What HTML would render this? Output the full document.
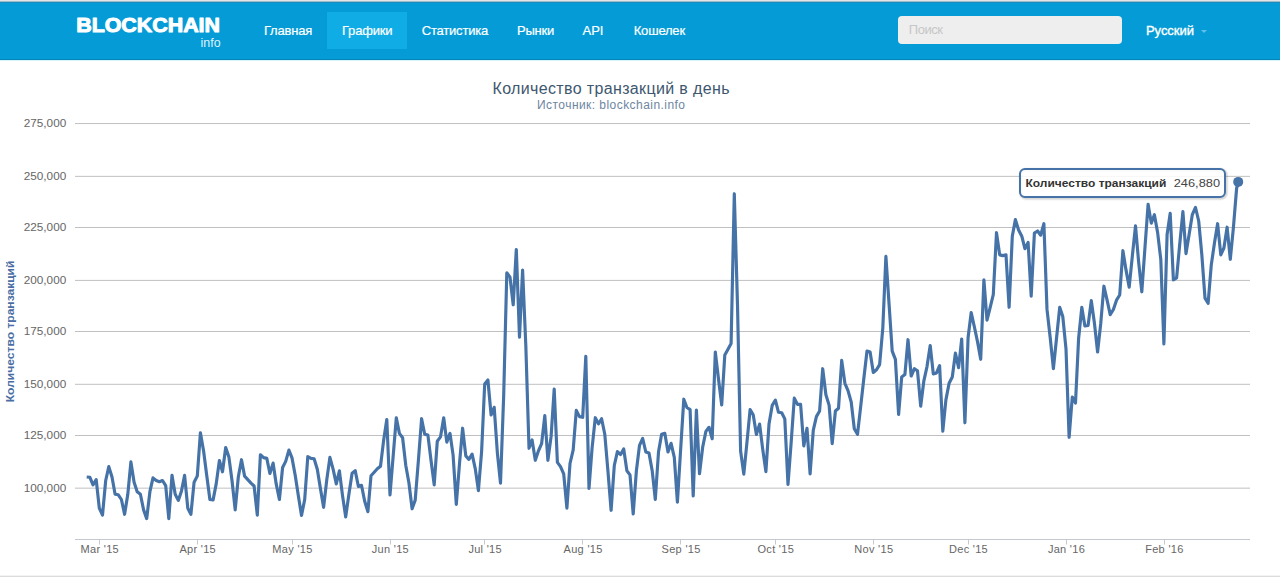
<!DOCTYPE html>
<html lang="ru"><head><meta charset="utf-8"><title>Blockchain.info</title>
<style>
html,body{margin:0;padding:0;background:#fff;}
body{width:1280px;height:577px;overflow:hidden;position:relative;font-family:"Liberation Sans",sans-serif;}
#topline{position:absolute;left:0;top:0;width:1280px;height:3px;background:linear-gradient(#e5e5e5 0,#e5e5e5 1px,#9cbccc 1px,#9cbccc 2px,#1a8bbd 2px,#1a8bbd 3px);}
#nav{position:absolute;left:0;top:3px;width:1280px;height:56px;background:#049BD6;border-bottom:1px solid #0787b8;}
#navsub{position:absolute;left:0;top:60px;width:1280px;height:1px;background:#d5f4fa;}
.nl{position:absolute;top:12px;height:37px;line-height:37px;font-size:13px;color:#fff;padding:0 15px;white-space:nowrap;letter-spacing:-0.2px;-webkit-text-stroke:0.2px #fff;}
.nl.act{background:#10ACE6;height:36.5px;}
#search{position:absolute;left:898px;top:16px;width:224px;height:27.5px;background:#eee;border-radius:4px;}
#search span{position:absolute;left:10.75px;top:0;line-height:27px;font-size:13px;color:#c6c6c6;letter-spacing:-0.45px;}
#lang{position:absolute;left:1146px;top:12px;line-height:37px;font-size:13px;color:#fff;-webkit-text-stroke:0.35px #fff;letter-spacing:-0.05px;}
#caret{position:absolute;left:1201px;top:30px;width:0;height:0;border-left:3.5px solid transparent;border-right:3.5px solid transparent;border-top:3.5px solid #5fc0ea;}
#bottomline{position:absolute;left:0;top:575px;width:1280px;height:2px;background:linear-gradient(#f3f3f3 0,#f3f3f3 1px,#dcdcdc 1px,#dcdcdc 2px);}
svg{position:absolute;left:0;top:0;}
svg text{font-family:"Liberation Sans",sans-serif;}
</style></head><body>
<div id="topline"></div>
<div id="nav"></div>
<div id="navsub"></div>
<svg width="300" height="60" viewBox="0 0 300 60">
<text x="76.2" y="31.7" font-size="20.5" font-weight="bold" fill="#fff" stroke="#fff" stroke-width="1" stroke-linejoin="round" textLength="143.8" lengthAdjust="spacingAndGlyphs">BLOCKCHAIN</text>
<text x="200.6" y="46.7" font-size="12.5" fill="#dff2fb" textLength="20" lengthAdjust="spacingAndGlyphs">info</text>
</svg>
<div class="nl" style="left:249px">Главная</div>
<div class="nl act" style="left:327px">Графики</div>
<div class="nl" style="left:406.75px">Статистика</div>
<div class="nl" style="left:502px">Рынки</div>
<div class="nl" style="left:567.5px;letter-spacing:0">API</div>
<div class="nl" style="left:618.75px">Кошелек</div>
<div id="search"><span>Поиск</span></div>
<div id="lang">Русский</div><div id="caret"></div>

<svg width="1280" height="577" viewBox="0 0 1280 577">
<text x="611" y="94" text-anchor="middle" font-size="16" fill="#3E576F" textLength="237" lengthAdjust="spacing">Количество транзакций в день</text>
<text x="611" y="109" text-anchor="middle" font-size="12" fill="#6D869F" textLength="148" lengthAdjust="spacing">Источник: blockchain.info</text>
<g><path d="M75 123.55H1250" stroke="#C0C0C0" stroke-width="1" fill="none"/>
<path d="M75 176.35H1250" stroke="#C0C0C0" stroke-width="1" fill="none"/>
<path d="M75 227.5H1250" stroke="#C0C0C0" stroke-width="1" fill="none"/>
<path d="M75 280.4H1250" stroke="#C0C0C0" stroke-width="1" fill="none"/>
<path d="M75 331.5H1250" stroke="#C0C0C0" stroke-width="1" fill="none"/>
<path d="M75 384.3H1250" stroke="#C0C0C0" stroke-width="1" fill="none"/>
<path d="M75 435.5H1250" stroke="#C0C0C0" stroke-width="1" fill="none"/>
<path d="M75 488.15H1250" stroke="#C0C0C0" stroke-width="1" fill="none"/></g>
<path d="M75 539.5H1250" stroke="#C3C9D0" stroke-width="1"/>
<path d="M99.5 540V544.5" stroke="#C3C9D0" stroke-width="1"/>
<path d="M197.5 540V544.5" stroke="#C3C9D0" stroke-width="1"/>
<path d="M292.5 540V544.5" stroke="#C3C9D0" stroke-width="1"/>
<path d="M390.5 540V544.5" stroke="#C3C9D0" stroke-width="1"/>
<path d="M484.5 540V544.5" stroke="#C3C9D0" stroke-width="1"/>
<path d="M582.5 540V544.5" stroke="#C3C9D0" stroke-width="1"/>
<path d="M680.5 540V544.5" stroke="#C3C9D0" stroke-width="1"/>
<path d="M775.5 540V544.5" stroke="#C3C9D0" stroke-width="1"/>
<path d="M873.5 540V544.5" stroke="#C3C9D0" stroke-width="1"/>
<path d="M968.5 540V544.5" stroke="#C3C9D0" stroke-width="1"/>
<path d="M1066.5 540V544.5" stroke="#C3C9D0" stroke-width="1"/>
<path d="M1164.5 540V544.5" stroke="#C3C9D0" stroke-width="1"/>
<g font-size="10.7" fill="#666"><text x="66.2" y="127.14999999999999" text-anchor="end" textLength="42.4" lengthAdjust="spacingAndGlyphs">275,000</text>
<text x="66.2" y="179.95" text-anchor="end" textLength="42.4" lengthAdjust="spacingAndGlyphs">250,000</text>
<text x="66.2" y="231.1" text-anchor="end" textLength="42.4" lengthAdjust="spacingAndGlyphs">225,000</text>
<text x="66.2" y="284.0" text-anchor="end" textLength="42.4" lengthAdjust="spacingAndGlyphs">200,000</text>
<text x="66.2" y="335.1" text-anchor="end" textLength="42.4" lengthAdjust="spacingAndGlyphs">175,000</text>
<text x="66.2" y="387.90000000000003" text-anchor="end" textLength="42.4" lengthAdjust="spacingAndGlyphs">150,000</text>
<text x="66.2" y="439.1" text-anchor="end" textLength="42.4" lengthAdjust="spacingAndGlyphs">125,000</text>
<text x="66.2" y="491.75" text-anchor="end" textLength="42.4" lengthAdjust="spacingAndGlyphs">100,000</text></g>
<g font-size="11" fill="#666"><text x="99.8" y="553" text-anchor="middle" letter-spacing="0.3">Mar '15</text>
<text x="197.7" y="553" text-anchor="middle" letter-spacing="0.3">Apr '15</text>
<text x="292.5" y="553" text-anchor="middle" letter-spacing="0.3">May '15</text>
<text x="390.4" y="553" text-anchor="middle" letter-spacing="0.3">Jun '15</text>
<text x="485.2" y="553" text-anchor="middle" letter-spacing="0.3">Jul '15</text>
<text x="583.1" y="553" text-anchor="middle" letter-spacing="0.3">Aug '15</text>
<text x="681.1" y="553" text-anchor="middle" letter-spacing="0.3">Sep '15</text>
<text x="775.8" y="553" text-anchor="middle" letter-spacing="0.3">Oct '15</text>
<text x="873.8" y="553" text-anchor="middle" letter-spacing="0.3">Nov '15</text>
<text x="968.5" y="553" text-anchor="middle" letter-spacing="0.3">Dec '15</text>
<text x="1066.5" y="553" text-anchor="middle" letter-spacing="0.3">Jan '16</text>
<text x="1164.4" y="553" text-anchor="middle" letter-spacing="0.3">Feb '16</text></g>
<text transform="translate(13.8,331.4) rotate(-90)" text-anchor="middle" font-size="11.6" font-weight="bold" fill="#4a6ea3" textLength="141.7" lengthAdjust="spacingAndGlyphs">Количество транзакций</text>
<polyline points="86.7,477.0 89.9,477.3 93.0,484.8 96.2,479.6 99.3,508.2 102.5,515.1 105.7,480.5 108.8,466.6 112.0,477.0 115.1,494.3 118.3,494.8 121.4,499.5 124.6,514.3 127.8,494.3 130.9,461.9 134.1,482.2 137.2,491.7 140.4,494.3 143.6,509.9 146.7,518.6 149.9,491.7 153.0,477.9 156.2,480.5 159.4,481.7 162.5,480.5 165.7,485.7 168.8,518.6 172.0,475.3 175.2,494.3 178.3,500.4 181.5,490.9 184.6,475.3 187.8,508.2 190.9,514.3 194.1,482.2 197.3,476.1 200.4,432.8 203.6,451.0 206.7,475.3 209.9,499.5 213.1,499.9 216.2,483.9 219.4,460.5 222.5,471.8 225.7,447.5 228.9,457.1 232.0,480.5 235.2,509.9 238.3,477.0 241.5,459.7 244.6,476.1 247.8,479.6 251.0,483.1 254.1,486.0 257.3,515.1 260.4,454.8 263.6,457.6 266.8,458.4 269.9,473.5 273.1,463.1 276.2,483.9 279.4,499.5 282.6,467.5 285.7,461.4 288.9,450.1 292.0,457.9 295.2,475.3 298.4,496.1 301.5,515.5 304.7,499.5 307.8,456.7 311.0,458.4 314.1,458.8 317.3,469.2 320.5,489.1 323.6,507.3 326.8,479.6 329.9,457.4 333.1,469.2 336.3,483.9 339.4,470.9 342.6,496.1 345.7,516.9 348.9,494.3 352.1,473.2 355.2,470.6 358.4,486.5 361.5,485.3 364.7,501.3 367.9,511.7 371.0,475.8 374.2,472.3 377.3,468.8 380.5,466.2 383.6,440.6 386.8,419.5 390.0,494.9 393.1,456.8 396.3,417.8 399.4,433.4 402.6,437.7 405.8,465.5 408.9,482.8 412.1,508.8 415.2,500.1 418.4,460.3 421.6,418.7 424.7,434.3 427.9,435.1 431.0,460.3 434.2,484.9 437.3,441.2 440.5,436.9 443.7,417.8 446.8,442.1 450.0,433.4 453.1,455.1 456.3,504.5 459.5,463.7 462.6,428.2 465.8,455.9 468.9,459.4 472.1,454.2 475.3,468.9 478.4,490.6 481.6,451.6 484.7,384.0 487.9,380.0 491.1,415.0 494.2,407.3 497.4,453.3 500.5,483.2 503.7,395.0 506.8,272.8 510.0,277.1 513.2,304.8 516.3,249.5 519.5,337.1 522.6,270.0 525.8,345.0 529.0,448.3 532.1,440.0 535.3,460.3 538.4,451.0 541.6,443.7 544.8,415.6 547.9,460.3 551.1,436.4 554.2,389.0 557.4,462.4 560.5,466.6 563.7,473.9 566.9,508.2 570.0,463.5 573.2,449.9 576.3,410.4 579.5,416.6 582.7,417.3 585.8,356.3 589.0,488.4 592.1,447.9 595.3,417.7 598.5,423.9 601.6,418.7 604.8,434.3 607.9,470.7 611.1,510.3 614.3,465.5 617.4,451.6 620.6,454.5 623.7,448.9 626.9,470.7 630.0,474.9 633.2,514.0 636.4,470.7 639.5,445.4 642.7,438.5 645.8,452.0 649.0,453.1 652.2,470.7 655.3,499.5 658.5,452.0 661.6,434.3 664.8,433.3 668.0,452.0 671.1,443.3 674.3,457.4 677.4,502.2 680.6,450.1 683.8,399.2 686.9,407.5 690.1,409.6 693.2,495.9 696.4,410.0 699.5,473.7 702.7,447.0 705.9,431.4 709.0,427.3 712.2,438.7 715.3,352.0 718.5,379.0 721.7,405.0 724.8,355.0 728.0,349.3 731.1,343.5 734.3,193.7 737.5,305.0 740.6,451.0 743.8,474.1 746.9,442.9 750.1,409.6 753.2,414.8 756.4,434.5 759.6,424.1 762.7,449.1 765.9,471.6 769.0,424.1 772.2,405.4 775.4,400.2 778.5,412.3 781.7,412.7 784.8,418.9 788.0,484.5 791.2,441.8 794.3,398.1 797.5,404.4 800.6,404.4 803.8,446.0 807.0,428.3 810.1,474.0 813.3,430.1 816.4,416.6 819.6,411.0 822.7,368.7 825.9,394.7 829.1,405.1 832.2,443.6 835.4,411.0 838.5,408.3 841.7,360.4 844.9,383.3 848.0,390.6 851.2,402.0 854.3,428.7 857.5,434.3 860.7,406.4 863.8,378.7 867.0,351.0 870.1,352.1 873.3,372.5 876.5,369.8 879.6,364.6 882.8,328.2 885.9,256.4 889.1,304.7 892.2,351.1 895.4,359.4 898.6,414.5 901.7,377.0 904.9,374.6 908.0,339.7 911.2,376.0 914.4,368.7 917.5,370.8 920.7,406.2 923.8,381.2 927.0,366.6 930.2,345.5 933.3,373.9 936.5,372.9 939.6,365.6 942.8,431.1 945.9,399.9 949.1,383.3 952.3,377.0 955.4,353.1 958.6,367.7 961.7,339.0 964.9,422.8 968.1,337.5 971.2,312.5 974.4,327.0 977.5,341.6 980.7,359.3 983.9,279.9 987.0,320.2 990.2,307.3 993.3,294.5 996.5,232.7 999.7,254.9 1002.8,255.6 1006.0,254.9 1009.1,307.3 1012.3,236.2 1015.4,219.6 1018.6,230.0 1021.8,236.2 1024.9,248.7 1028.1,242.5 1031.2,296.1 1034.4,233.1 1037.6,231.0 1040.7,235.2 1043.9,223.7 1047.0,309.4 1050.2,337.5 1053.4,368.7 1056.5,338.5 1059.7,307.3 1062.8,316.6 1066.0,348.9 1069.1,437.3 1072.3,397.0 1075.5,403.0 1078.6,338.5 1081.8,307.3 1084.9,326.0 1088.1,325.4 1091.3,300.6 1094.4,322.9 1097.6,352.0 1100.7,323.9 1103.9,286.2 1107.1,300.2 1110.2,314.7 1113.4,309.5 1116.5,300.2 1119.7,295.0 1122.9,250.7 1126.0,269.9 1129.2,287.1 1132.3,256.4 1135.5,225.8 1138.6,261.6 1141.8,291.8 1145.0,247.2 1148.1,204.3 1151.3,223.1 1154.4,214.7 1157.6,232.4 1160.8,259.5 1163.9,343.9 1167.1,234.5 1170.2,213.3 1173.4,279.8 1176.6,277.9 1179.7,244.5 1182.9,211.6 1186.0,253.6 1189.2,234.1 1192.3,214.7 1195.5,207.5 1198.7,221.0 1201.8,254.3 1205.0,298.1 1208.1,303.3 1211.3,264.7 1214.5,242.8 1217.6,223.7 1220.8,254.9 1223.9,248.0 1227.1,227.2 1230.3,259.3 1233.4,227.6 1236.6,188.5 1238.2,182.0" fill="none" stroke="#4572A7" stroke-width="3.15" stroke-linejoin="round" stroke-linecap="butt"/>
<circle cx="1238.2" cy="181.9" r="5" fill="#4572A7"/>
<g>
<rect x="1021" y="170" width="205" height="28" rx="5" fill="none" stroke="#000" stroke-opacity="0.05" stroke-width="5"/>
<rect x="1021" y="170" width="205" height="28" rx="5" fill="none" stroke="#000" stroke-opacity="0.1" stroke-width="3"/>
<rect x="1020" y="169" width="205" height="28" rx="5" fill="#fff" fill-opacity="0.85" stroke="#4572A7" stroke-width="2"/>
<text x="1025.5" y="186.7" font-size="11.2" font-weight="bold" fill="#333" textLength="140.75" lengthAdjust="spacingAndGlyphs">Количество транзакций</text>
<text x="1173.75" y="186.7" font-size="11.5" fill="#444" textLength="46.25" lengthAdjust="spacingAndGlyphs">246,880</text>
</g>
</svg>
<div id="bottomline"></div>
</body></html>
